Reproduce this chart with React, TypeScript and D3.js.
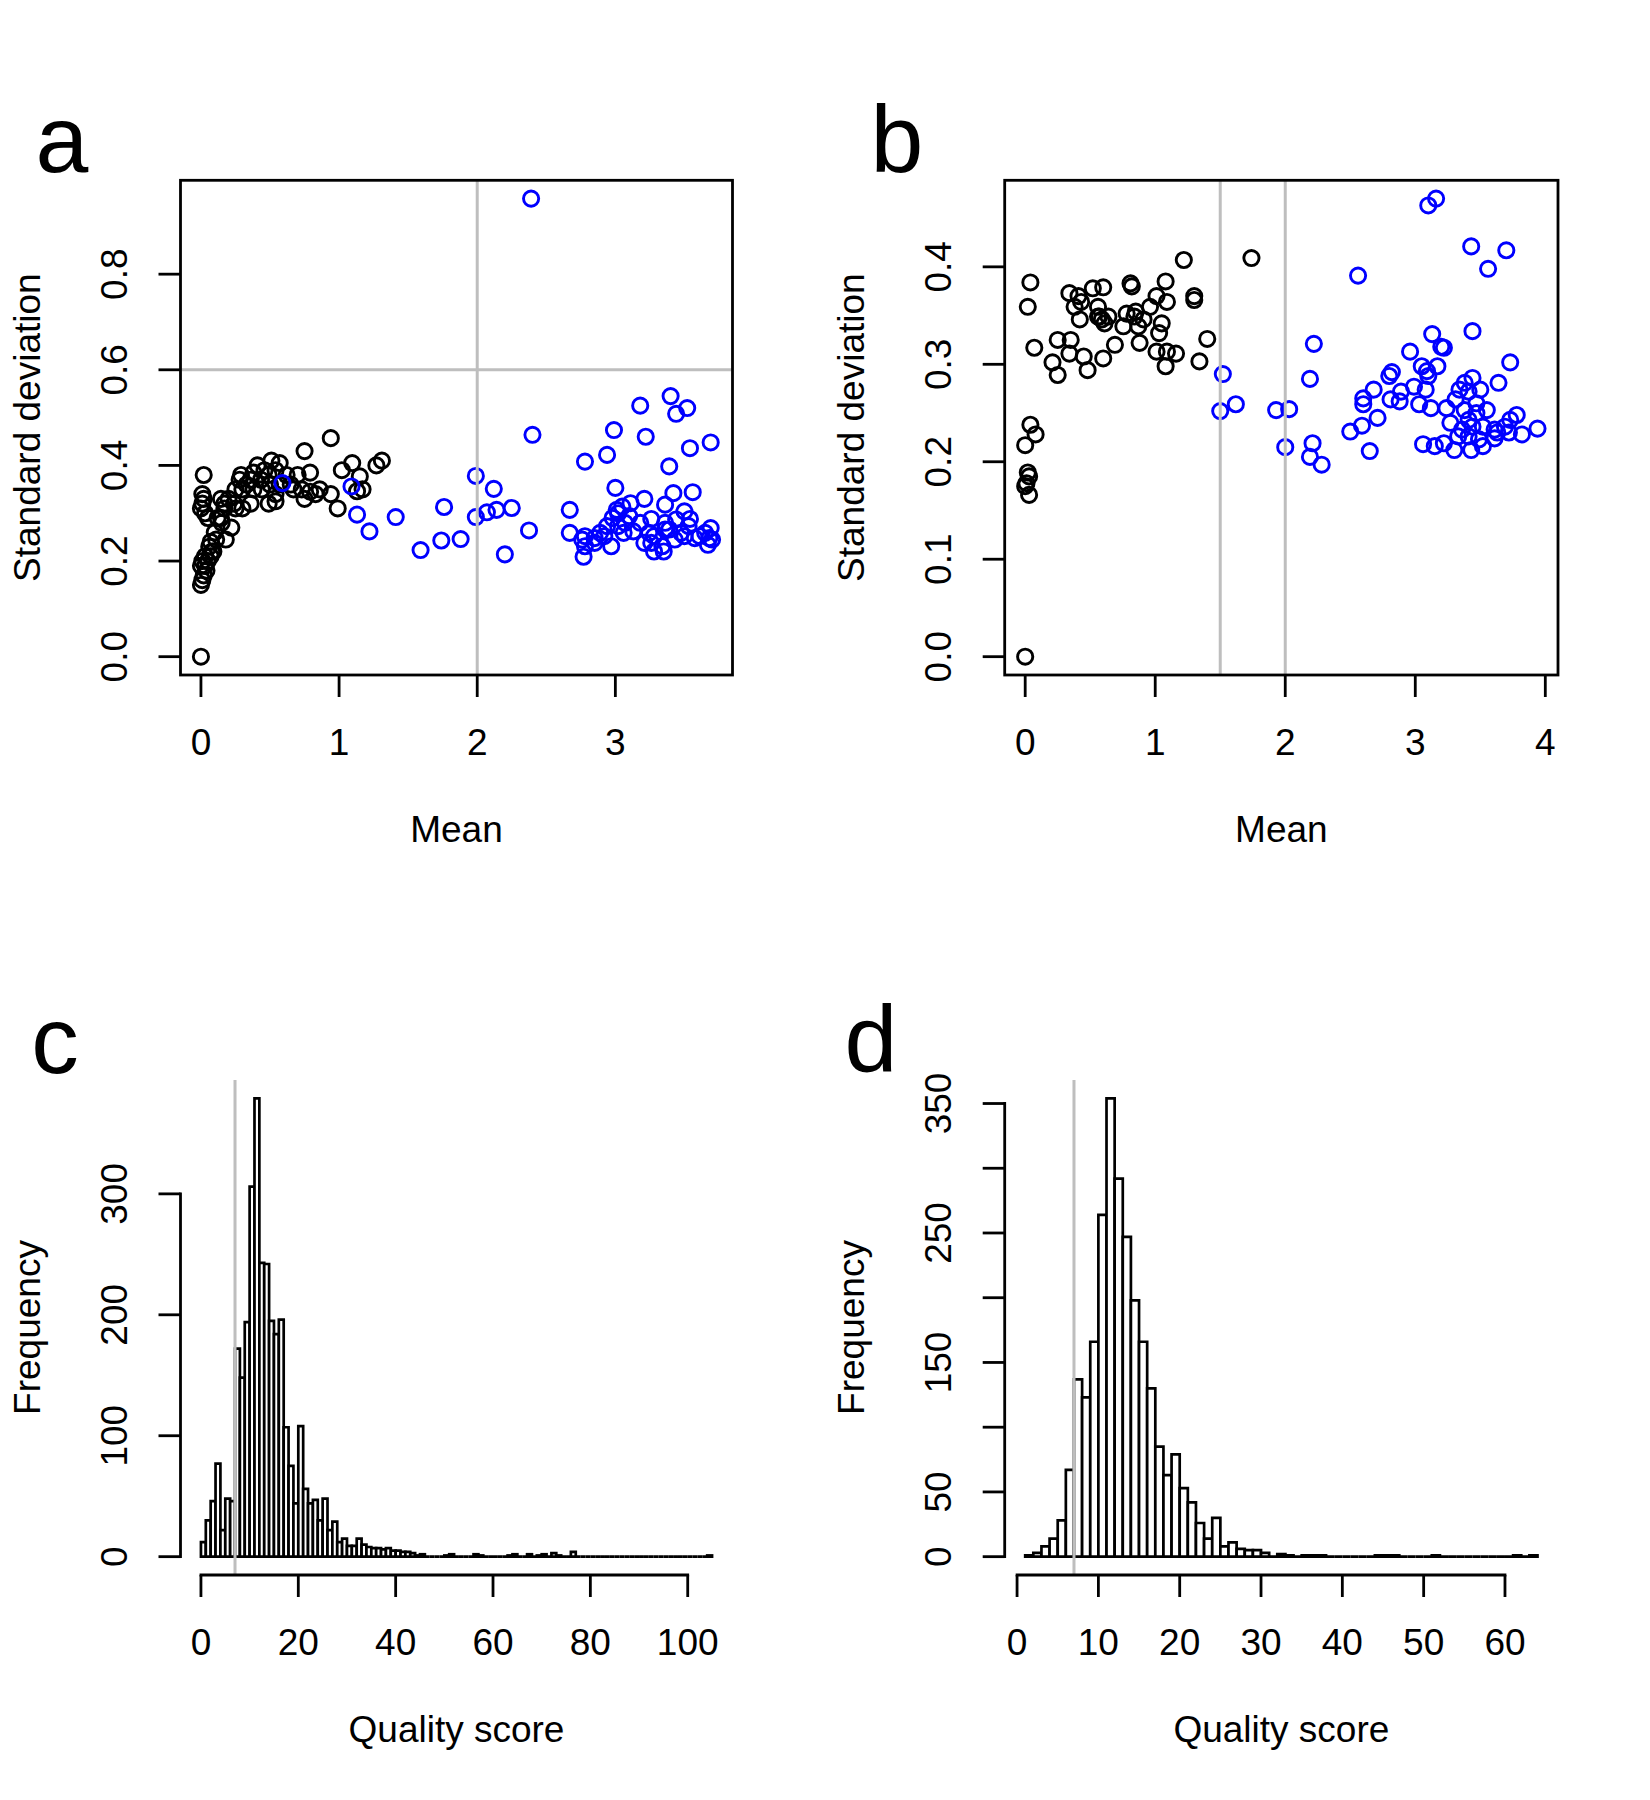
import React from 'react';
import * as d3 from 'd3';

const W = 1650;
const H = 1800;
const FONT = '"Liberation Sans", Arial, Helvetica, sans-serif';
const GREY = '#bebebe';

// ---- Panel a: mean vs standard deviation ----
const aBlackMean = [
  0.0, 0.02, 0.01, 0.01, 0.0, 0.03, 0.0, 0.01, 0.0, 0.01, 0.03, 0.04, 0.07, 0.08, 0.09, 0.07,
  0.11, 0.12, 0.05, 0.18, 0.22, 0.2, 0.24, 0.29, 0.3, 0.33, 0.41, 0.44, 0.51, 0.54, 0.57, 0.5,
  0.62, 0.7, 0.75, 0.75, 0.79, 0.79, 0.86, 0.94, 0.94, 0.99, 1.02, 1.095, 1.15, 1.13, 1.17, 1.27,
  1.31, 0.145, 0.17, 0.25, 0.28, 0.36, 0.38, 0.46, 0.49, 0.54, 0.57, 0.38, 0.435, 0.36, 0.3, 0.17,
  0.145, 0.25, 0.65, 0.67, 0.73, 0.83, 0.49, 0.54, 0.02, 0.03, 0.05, 0.06, 0.1, 0.15, 0.02,
];
const aBlackSd = [
  0.0, 0.38, 0.34, 0.32, 0.31, 0.3, 0.19, 0.16, 0.15, 0.2, 0.21, 0.18, 0.21, 0.22, 0.22, 0.24,
  0.245, 0.29, 0.29, 0.245, 0.27, 0.33, 0.32, 0.38, 0.31, 0.36, 0.4, 0.35, 0.41, 0.325, 0.36, 0.36,
  0.38, 0.38, 0.33, 0.43, 0.385, 0.345, 0.35, 0.34, 0.457, 0.31, 0.39, 0.405, 0.377, 0.346, 0.35, 0.4,
  0.41, 0.33, 0.32, 0.35, 0.37, 0.37, 0.35, 0.39, 0.38, 0.39, 0.405, 0.385, 0.37, 0.32, 0.35, 0.31,
  0.29, 0.31, 0.36, 0.35, 0.35, 0.34, 0.32, 0.34, 0.17, 0.19, 0.2, 0.23, 0.26, 0.28, 0.33,
];
const aBlueMean = [
  2.39, 2.4, 3.18, 3.4, 3.44, 3.52, 2.99, 3.22, 2.94, 2.78, 3.69, 3.54, 3.39, 1.99, 2.12, 1.09,
  0.59, 1.13, 1.22, 1.41, 1.76, 1.99, 2.07, 2.14, 2.25, 1.59, 1.74, 1.88, 2.2, 2.375, 2.67, 2.67,
  2.77, 2.78, 2.76, 2.85, 2.89, 2.97, 3.0, 3.01, 3.05, 3.11, 3.21, 3.56, 3.42, 3.36, 3.5, 3.54,
  3.26, 3.07, 3.13, 3.02, 2.94, 2.98, 3.28, 3.34, 3.28, 3.35, 3.43, 3.36, 3.39, 3.575, 3.67, 3.69,
  3.68, 3.65, 3.21, 3.245, 3.44, 3.06, 3.5, 3.53, 3.18, 3.1, 3.02, 3.475, 3.26, 3.36, 3.61, 3.7,
  2.85, 2.92, 2.78,
];
const aBlueSd = [
  0.958, 0.464, 0.525, 0.545, 0.508, 0.52, 0.474, 0.46, 0.422, 0.408, 0.448, 0.436, 0.398, 0.378, 0.351, 0.356,
  0.363, 0.297, 0.262, 0.292, 0.313, 0.292, 0.302, 0.307, 0.311, 0.223, 0.243, 0.246, 0.214, 0.264, 0.307, 0.259,
  0.209, 0.252, 0.245, 0.248, 0.259, 0.231, 0.353, 0.307, 0.314, 0.321, 0.33, 0.344, 0.342, 0.318, 0.304, 0.288,
  0.288, 0.28, 0.262, 0.273, 0.273, 0.29, 0.252, 0.231, 0.22, 0.22, 0.245, 0.28, 0.266, 0.248, 0.234, 0.269,
  0.248, 0.259, 0.238, 0.259, 0.287, 0.259, 0.252, 0.273, 0.28, 0.294, 0.3, 0.259, 0.238, 0.266, 0.252, 0.245,
  0.238, 0.252, 0.231,
];

// ---- Panel b: mean vs standard deviation ----
const bBlackMean = [
  0.0, 0.04, 0.02, 0.07, 0.04, 0.08, 0.0, 0.02, 0.03, 0.0, 0.01, 0.03, 0.34, 0.41, 0.43, 0.52,
  0.6, 0.38, 0.42, 0.56, 0.57, 0.61, 0.25, 0.35, 0.34, 0.21, 0.25, 0.45, 0.48, 0.6, 0.69, 0.755,
  0.81, 0.82, 0.78, 0.85, 0.88, 0.91, 0.96, 1.01, 1.08, 1.09, 1.05, 1.03, 1.01, 1.09, 1.16, 1.08,
  1.22, 1.3, 1.3, 1.4, 1.34, 1.74, 0.84, 0.87, 0.64, 0.59, 0.56,
];
const bBlackSd = [
  0.0, 0.384, 0.359, 0.317, 0.238, 0.228, 0.217, 0.189, 0.185, 0.175, 0.178, 0.166, 0.373, 0.37, 0.364, 0.378,
  0.379, 0.359, 0.346, 0.359, 0.349, 0.342, 0.325, 0.325, 0.311, 0.302, 0.289, 0.308, 0.294, 0.306, 0.32, 0.339,
  0.383, 0.38, 0.352, 0.354, 0.322, 0.346, 0.359, 0.37, 0.385, 0.364, 0.342, 0.332, 0.313, 0.313, 0.311, 0.298,
  0.407, 0.37, 0.366, 0.326, 0.303, 0.409, 0.349, 0.339, 0.349, 0.346, 0.349,
];
const bBlueMean = [
  3.1, 3.16, 3.43, 3.7, 3.56, 2.56, 3.13, 3.44, 3.2, 3.22, 2.96, 3.73, 3.05, 3.09, 3.17, 3.64,
  2.8, 2.82, 2.68, 2.6, 2.6, 2.81, 2.88, 2.89, 2.99, 3.08, 3.03, 3.12, 2.71, 2.59, 2.5, 2.65,
  2.22, 2.19, 1.52, 1.5, 1.62, 1.93, 2.03, 2.0, 2.21, 2.19, 2.28, 3.06, 3.15, 3.22, 3.3, 3.43,
  3.52, 3.61, 3.72, 3.82, 3.94, 3.78, 3.73, 3.34, 3.41, 3.44, 3.5, 3.31, 3.38, 3.47, 3.55, 3.27,
  3.36, 3.44, 3.52, 3.61, 3.24, 3.33, 3.41, 3.49, 3.63, 3.69, 3.38, 3.47, 3.41, 3.1,
];
const bBlueSd = [
  0.463, 0.47, 0.421, 0.417, 0.398, 0.391, 0.331, 0.334, 0.318, 0.317, 0.313, 0.302, 0.298, 0.293, 0.298, 0.281,
  0.288, 0.292, 0.274, 0.265, 0.259, 0.264, 0.262, 0.272, 0.277, 0.274, 0.259, 0.255, 0.245, 0.237, 0.231, 0.211,
  0.321, 0.285, 0.29, 0.252, 0.259, 0.253, 0.254, 0.215, 0.219, 0.205, 0.197, 0.218, 0.216, 0.219, 0.212, 0.212,
  0.216, 0.224, 0.23, 0.228, 0.234, 0.248, 0.243, 0.274, 0.272, 0.286, 0.274, 0.264, 0.253, 0.25, 0.253, 0.24,
  0.233, 0.236, 0.236, 0.233, 0.255, 0.226, 0.226, 0.223, 0.23, 0.236, 0.281, 0.26, 0.243, 0.288,
];

// ---- Panel c: quality score histogram, unit bins starting at 0 ----
const cFirstBreak = 0;
const cCounts = [
  12, 30, 46, 77, 22, 48, 46, 172, 148, 194, 306, 379, 243, 242, 195, 184,
  196, 107, 75, 44, 108, 56, 44, 47, 30, 48, 22, 29, 12, 15, 9, 9,
  15, 10, 8, 7, 7, 6, 7, 5, 5, 4, 4, 3, 1, 2, 0, 0,
  0, 0, 1, 2, 0, 0, 0, 0, 2, 1, 0, 0, 0, 0, 0, 1,
  2, 0, 0, 2, 0, 1, 2, 0, 3, 1, 0, 0, 4, 0, 0, 0,
  0, 0, 0, 0, 0, 0, 0, 0, 0, 0, 0, 0, 0, 0, 0, 0,
  0, 0, 0, 0, 0, 0, 0, 0, 1,
];

// ---- Panel d: quality score histogram, unit bins starting at 1 ----
const dFirstBreak = 1;
const dCounts = [
  1, 3, 8, 14, 28, 67, 137, 123, 166, 264, 354, 292, 247, 198, 166, 130,
  85, 63, 79, 53, 42, 26, 14, 30, 8, 11, 6, 5, 5, 3, 0, 2,
  1, 0, 1, 1, 1, 0, 0, 0, 0, 0, 0, 1, 1, 1, 0, 0,
  0, 0, 1, 0, 0, 0, 0, 0, 0, 0, 0, 0, 1, 0, 1,
];

const aXTicks = [0, 1, 2, 3];
const aYTicks = [0, 0.2, 0.4, 0.6, 0.8];
const bXTicks = [0, 1, 2, 3, 4];
const bYTicks = [0, 0.1, 0.2, 0.3, 0.4];
const cXTicks = [0, 20, 40, 60, 80, 100];
const cYTicks = [0, 100, 200, 300];
const dXTicks = [0, 10, 20, 30, 40, 50, 60];
const dYTicks = [0, 50, 100, 150, 200, 250, 300, 350];

const aCutMean = [2];
const aCutSd = [0.6];
const bCutMean = [1.5, 2];
const qualityCut = 7;

// plot regions of the 2x2 layout
const COLS = [
  { left: 180.5, right: 732.5 },
  { left: 1004.7, right: 1558 },
];
const ROWS = [
  { top: 180.3, bottom: 675 },
  { top: 1080, bottom: 1575 },
];

const TICK = 22;
const LABEL_SIZE = 37;
const LETTER_SIZE = 95;
const LINE_W = 2.8;

function padded(lo: number, hi: number): [number, number] {
  const p = (hi - lo) * 0.04;
  return [lo - p, hi + p];
}

// Approximate label width along the axis (Helvetica-like digits)
function labelWidth(s: string) {
  let w = 0;
  for (const ch of s) w += ch === '.' ? 0.278 : 0.556;
  return w * LABEL_SIZE;
}

// Drop labels that would collide with the previously drawn one, as R does
function visibleLabels(ticks: number[], scale: (v: number) => number, fmt: (v: number) => string) {
  const out: boolean[] = [];
  let lastPos = -Infinity;
  let lastHalf = 0;
  const gap = LABEL_SIZE * 0.5;
  ticks.forEach((t) => {
    const pos = scale(t);
    const half = labelWidth(fmt(t)) / 2;
    const ok = Math.abs(pos - lastPos) >= lastHalf + half + gap;
    out.push(ok);
    if (ok) {
      lastPos = pos;
      lastHalf = half;
    }
  });
  return out;
}

function BottomAxis({ scale, ticks, y, fmt, line }: any) {
  const show = visibleLabels(ticks, scale, fmt);
  return (
    <g>
      {line && (
        <line x1={scale(ticks[0])} x2={scale(ticks[ticks.length - 1])} y1={y} y2={y} stroke="black" strokeWidth={LINE_W} strokeLinecap="square" />
      )}
      {ticks.map((t: number, i: number) => (
        <g key={t}>
          <line x1={scale(t)} x2={scale(t)} y1={y} y2={y + TICK} stroke="black" strokeWidth={LINE_W} />
          {show[i] && (
            <text x={scale(t)} y={y + 80} textAnchor="middle" fontSize={LABEL_SIZE} fontFamily={FONT}>
              {fmt(t)}
            </text>
          )}
        </g>
      ))}
    </g>
  );
}

function LeftAxis({ scale, ticks, x, fmt, line }: any) {
  const show = visibleLabels(ticks, scale, fmt);
  return (
    <g>
      {line && (
        <line y1={scale(ticks[0])} y2={scale(ticks[ticks.length - 1])} x1={x} x2={x} stroke="black" strokeWidth={LINE_W} strokeLinecap="square" />
      )}
      {ticks.map((t: number, i: number) => (
        <g key={t}>
          <line y1={scale(t)} y2={scale(t)} x1={x} x2={x - TICK} stroke="black" strokeWidth={LINE_W} />
          {show[i] && (
            <text
              transform={`translate(${x - 54},${scale(t)}) rotate(-90)`}
              textAnchor="middle"
              fontSize={LABEL_SIZE}
              fontFamily={FONT}
            >
              {fmt(t)}
            </text>
          )}
        </g>
      ))}
    </g>
  );
}

function Titles({ r, xTitle, yTitle }: { r: Region; xTitle: string; yTitle: string }) {
  const cx = (r.left + r.right) / 2;
  const cy = (r.top + r.bottom) / 2;
  return (
    <g fontFamily={FONT} fontSize={LABEL_SIZE}>
      <text x={cx} y={r.bottom + 167} textAnchor="middle">
        {xTitle}
      </text>
      <text transform={`translate(${r.left - 141},${cy}) rotate(-90)`} textAnchor="middle">
        {yTitle}
      </text>
    </g>
  );
}

type Region = { left: number; right: number; top: number; bottom: number };

function Scatter({
  r, blackX, blackY, blueX, blueY, xTicks, yTicks, vLines, hLines,
}: any) {
  const allX = [...blackX, ...blueX];
  const allY = [...blackY, ...blueY];
  const x = d3.scaleLinear().domain(padded(d3.min(allX)!, d3.max(allX)!)).range([r.left, r.right]);
  const y = d3.scaleLinear().domain(padded(d3.min(allY)!, d3.max(allY)!)).range([r.bottom, r.top]);
  const fmtY = d3.format('.1f');
  const clipId = `clip-${Math.round(r.left)}-${Math.round(r.top)}`;
  return (
    <g>
      <defs>
        <clipPath id={clipId}>
          <rect x={r.left} y={r.top} width={r.right - r.left} height={r.bottom - r.top} />
        </clipPath>
      </defs>
      <g clipPath={`url(#${clipId})`}>
        {blackX.map((v: number, i: number) => (
          <circle key={`k${i}`} cx={x(v)} cy={y(blackY[i])} r={7.6} fill="none" stroke="black" strokeWidth={2.9} />
        ))}
        {blueX.map((v: number, i: number) => (
          <circle key={`b${i}`} cx={x(v)} cy={y(blueY[i])} r={7.6} fill="none" stroke="#0000ff" strokeWidth={2.9} />
        ))}
        {vLines.map((v: number) => (
          <line key={`v${v}`} x1={x(v)} x2={x(v)} y1={r.top} y2={r.bottom} stroke={GREY} strokeWidth={3} />
        ))}
        {hLines.map((v: number) => (
          <line key={`h${v}`} x1={r.left} x2={r.right} y1={y(v)} y2={y(v)} stroke={GREY} strokeWidth={3} />
        ))}
      </g>
      <rect x={r.left} y={r.top} width={r.right - r.left} height={r.bottom - r.top} fill="none" stroke="black" strokeWidth={LINE_W} />
      <BottomAxis scale={x} ticks={xTicks} y={r.bottom} fmt={(t: number) => String(t)} line={false} />
      <LeftAxis scale={y} ticks={yTicks} x={r.left} fmt={fmtY} line={false} />
      <Titles r={r} xTitle="Mean" yTitle="Standard deviation" />
    </g>
  );
}

function Histogram({ r, first, counts, xTicks, yTicks, cut }: any) {
  const last = first + counts.length;
  const x = d3.scaleLinear().domain(padded(first, last)).range([r.left, r.right]);
  const y = d3.scaleLinear().domain(padded(0, d3.max(counts as number[])!)).range([r.bottom, r.top]);
  const bars = counts.map((c: number, i: number) => {
    const p = d3.path();
    const x0 = x(first + i);
    const x1 = x(first + i + 1);
    p.moveTo(x0, y(0));
    p.lineTo(x0, y(c));
    p.lineTo(x1, y(c));
    p.lineTo(x1, y(0));
    p.closePath();
    return p.toString();
  });
  return (
    <g>
      {bars.map((d: string, i: number) => (
        <path key={i} d={d} fill="white" stroke="black" strokeWidth={2.7} strokeLinejoin="miter" />
      ))}
      <line x1={x(cut)} x2={x(cut)} y1={r.top} y2={r.bottom} stroke={GREY} strokeWidth={3} />
      <BottomAxis scale={x} ticks={xTicks} y={r.bottom} fmt={(t: number) => String(t)} line={true} />
      <LeftAxis scale={y} ticks={yTicks} x={r.left} fmt={(t: number) => String(t)} line={true} />
      <Titles r={r} xTitle="Quality score" yTitle="Frequency" />
    </g>
  );
}

function Letter({ x, y, t }: { x: number; y: number; t: string }) {
  return (
    <text x={x} y={y} textAnchor="middle" fontSize={LETTER_SIZE} fontFamily={FONT}>
      {t}
    </text>
  );
}

export default function App() {
  const ra = { ...COLS[0], ...ROWS[0] };
  const rb = { ...COLS[1], ...ROWS[0] };
  const rc = { ...COLS[0], ...ROWS[1] };
  const rd = { ...COLS[1], ...ROWS[1] };
  return (
    <svg
      width={W}
      height={H}
      viewBox={`0 0 ${W} ${H}`}
      style={{ position: 'absolute', left: 0, top: 0, background: 'white' }}
    >
      <rect x={0} y={0} width={W} height={H} fill="white" />
      <Scatter
        r={ra}
        blackX={aBlackMean}
        blackY={aBlackSd}
        blueX={aBlueMean}
        blueY={aBlueSd}
        xTicks={aXTicks}
        yTicks={aYTicks}
        vLines={aCutMean}
        hLines={aCutSd}
      />
      <Scatter
        r={rb}
        blackX={bBlackMean}
        blackY={bBlackSd}
        blueX={bBlueMean}
        blueY={bBlueSd}
        xTicks={bXTicks}
        yTicks={bYTicks}
        vLines={bCutMean}
        hLines={[]}
      />
      <Histogram r={rc} first={cFirstBreak} counts={cCounts} xTicks={cXTicks} yTicks={cYTicks} cut={qualityCut} />
      <Histogram r={rd} first={dFirstBreak} counts={dCounts} xTicks={dXTicks} yTicks={dYTicks} cut={qualityCut} />
      <Letter x={62} y={172} t="a" />
      <Letter x={897} y={172} t="b" />
      <Letter x={55} y={1073} t="c" />
      <Letter x={871} y={1072} t="d" />
    </svg>
  );
}
